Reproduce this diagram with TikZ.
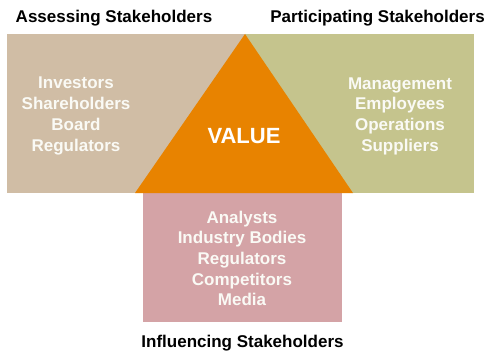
\documentclass[tikz,border=0pt]{standalone}
\usepackage{fontspec}
\setmainfont{Liberation Sans}
\definecolor{tanfill}{HTML}{D0BDA5}
\definecolor{olivefill}{HTML}{C5C48D}
\definecolor{pinkfill}{HTML}{D4A3A6}
\definecolor{orangefill}{HTML}{E88300}
\definecolor{softwhite}{HTML}{FAFAF5}
\begin{document}
\begin{tikzpicture}[x=1pt,y=-1pt,
  title/.style={font=\bfseries\fontsize{17}{20.7}\selectfont, text=black, inner sep=0pt},
  group/.style={font=\bfseries\fontsize{17}{20.7}\selectfont, text=softwhite, align=center, inner sep=0pt},
  valuetext/.style={font=\bfseries\fontsize{22}{26}\selectfont, text=white, inner sep=0pt}]
\useasboundingbox (0,0) rectangle (488,353);
% coloured fields
\fill[tanfill] (7,34) rectangle (245,193);
\fill[olivefill] (245,34) rectangle (474,193);
\fill[pinkfill] (143,193) rectangle (342,322);
\fill[orangefill] (245,34) -- (353,193) -- (135,193) -- cycle;
% headings
\node[title] (assess) at (114,18.5) {Assessing Stakeholders};
\node[title] (partic) at (377.5,18.5) {Participating Stakeholders};
\node[title] (influ) at (242.5,343.5) {Influencing Stakeholders};
% stakeholder lists
\node[group] (left) at (76,116) {Investors\\Shareholders\\Board\\Regulators};
\node[group] (right) at (400,116) {Management\\Employees\\Operations\\Suppliers};
\node[group] (bottom) at (242,258.5) {Analysts\\Industry Bodies\\Regulators\\Competitors\\Media};
\node[valuetext] (value) at (244,136) {VALUE};
\end{tikzpicture}
\end{document}
